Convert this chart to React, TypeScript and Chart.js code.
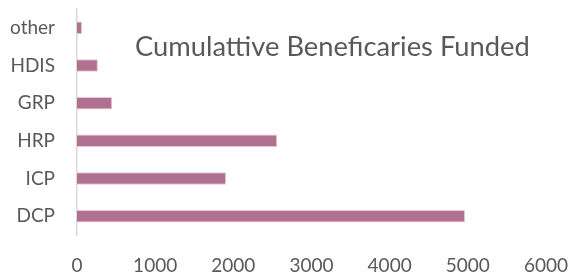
import React, { useEffect, useRef } from "react";
import { Chart, registerables } from "chart.js";

Chart.register(...registerables);

const categories = ["other", "HDIS", "GRP", "HRP", "ICP", "DCP"];
const beneficiaries = [65, 267, 451, 2562, 1907, 4965];
const xTicks = [0, 1000, 2000, 3000, 4000, 5000, 6000];
const chartTitle = "Cumulattive Beneficaries Funded";

const FONT = 'Lato, "Open Sans", sans-serif';
const TEXT = "#595959";

const titlePlugin = {
  id: "insideTitle",
  afterDraw(chart: any) {
    const ctx = chart.ctx;
    ctx.save();
    ctx.font = `100px ${FONT}`;
    const w = ctx.measureText(chartTitle).width;
    const size = (100 * 395) / w;
    ctx.font = `${size}px ${FONT}`;
    ctx.fillStyle = TEXT;
    ctx.textAlign = "left";
    ctx.textBaseline = "alphabetic";
    ctx.fillText(chartTitle, 135, 56);
    ctx.restore();
  },
};

export default function App() {
  const ref = useRef<HTMLCanvasElement>(null);
  useEffect(() => {
    if (!ref.current) return;
    const chart = new Chart(ref.current, {
      type: "bar",
      data: {
        labels: categories,
        datasets: [
          {
            data: beneficiaries,
            backgroundColor: "#b07090",
            borderColor: "#e8c8d8",
            borderWidth: 1,
            categoryPercentage: 1,
            barPercentage: 0.33,
          },
        ],
      },
      options: {
        indexAxis: "y",
        animation: false,
        responsive: false,
        maintainAspectRatio: false,
        layout: { padding: { left: 0, right: 0, top: 9, bottom: 0 } },
        plugins: { legend: { display: false }, tooltip: { enabled: false } },
        scales: {
          x: {
            min: 0,
            max: 6000,
            afterBuildTicks: (s: any) => {
              s.ticks = xTicks.map((v) => ({ value: v }));
            },
            grid: { display: false, drawTicks: false },
            border: { display: false },
            ticks: {
              color: TEXT,
              font: { family: FONT, size: 19 },
              padding: 19,
              maxRotation: 0,
              callback: (v: any) => String(v),
            },
            afterFit: (s: any) => {
              s.height = 40;
            },
          },
          y: {
            grid: { display: false, drawTicks: false },
            border: { display: true, color: "#d9d9d9", width: 1.5 },
            ticks: {
              color: TEXT,
              font: { family: FONT, size: 19 },
              padding: 22,
            },
            afterFit: (s: any) => {
              s.width = 77;
              s.paddingTop = 0;
              s.paddingBottom = 0;
            },
          },
        },
      },
      plugins: [titlePlugin],
    });
    return () => chart.destroy();
  }, []);
  return (
    <div style={{ position: "fixed", left: 0, top: 0, width: 587, height: 275, background: "#fff" }}>
      <canvas ref={ref} width={587} height={275} style={{ width: 587, height: 275 }} />
    </div>
  );
}
